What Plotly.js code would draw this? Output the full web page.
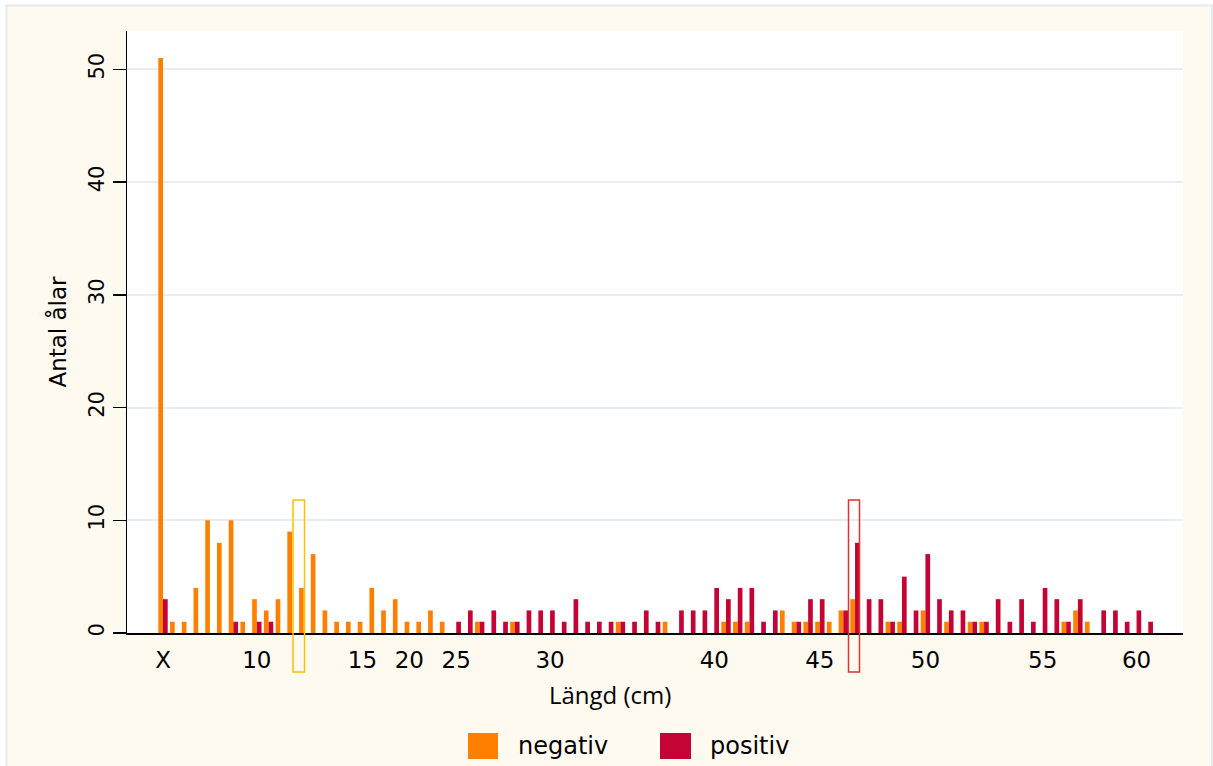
<!DOCTYPE html>
<html>
<head>
<meta charset="utf-8">
<script src="https://cdn.plot.ly/plotly-3.0.1.min.js"></script>
<style>
  html, body { margin: 0; padding: 0; background: #ffffff; }
  #chart { width: 1213px; height: 766px; }
</style>
</head>
<body>
<div id="chart"></div>
<script>
// ---- Data ----
// One entry per length category, left to right (85 categories).
const categoryIndex = Array.from({length: 85}, (_, i) => i);

const negativ = [
  51, 1, 1, 4, 10, 8, 10, 1, 3, 2,
  3, 9, 4, 7, 2, 1, 1, 1, 4, 2,
  3, 1, 1, 2, 1, 0, 0, 1, 0, 0,
  1, 0, 0, 0, 0, 0, 0, 0, 0, 1,
  0, 0, 0, 1, 0, 0, 0, 0, 1, 1,
  1, 0, 0, 2, 1, 1, 1, 1, 2, 3,
  0, 0, 1, 1, 0, 2, 0, 1, 0, 1,
  1, 0, 0, 0, 0, 0, 0, 1, 2, 1,
  0, 0, 0, 0, 0
];

const positiv = [
  3, 0, 0, 0, 0, 0, 1, 0, 1, 1,
  0, 0, 0, 0, 0, 0, 0, 0, 0, 0,
  0, 0, 0, 0, 0, 1, 2, 1, 2, 1,
  1, 2, 2, 2, 1, 3, 1, 1, 1, 1,
  1, 2, 1, 0, 2, 2, 2, 4, 3, 4,
  4, 1, 2, 0, 1, 3, 3, 0, 2, 8,
  3, 3, 1, 5, 2, 7, 3, 2, 2, 1,
  1, 3, 1, 3, 1, 4, 3, 1, 3, 0,
  2, 2, 1, 2, 1
];

// Tick labels and the category they sit under
const tickLabels = ['X', '10', '15', '20', '25', '30', '40', '45', '50', '55', '60'];
const tickCategories = [0, 8, 17, 21, 25, 33, 47, 56, 65, 75, 83];

const seriesNames = ['negativ', 'positiv'];
const seriesColors = ['#ff8000', '#c40434'];
const xTitle = 'Längd (cm)';
const yTitle = 'Antal ålar';

// ---- Layout helpers (pixel -> paper) ----
const M = {l: 127, r: 30, t: 31, b: 133};
const W = 1213, H = 766;
const PW = W - M.l - M.r, PH = H - M.t - M.b;
const px = x => (x - M.l) / PW;
const py = y => (H - M.b - y) / PH;

const traces = [
  {type: 'bar', name: seriesNames[0], x: categoryIndex, y: negativ,
   marker: {color: seriesColors[0], line: {width: 0}}},
  {type: 'bar', name: seriesNames[1], x: categoryIndex, y: positiv,
   marker: {color: seriesColors[1], line: {width: 0}}}
];

const shapes = [
  // white outer strips + figure frame
  {type: 'rect', xref: 'paper', yref: 'paper', layer: 'below',
   x0: px(-5), x1: px(6), y0: py(780), y1: py(-5),
   fillcolor: '#ffffff', line: {width: 0}},
  {type: 'rect', xref: 'paper', yref: 'paper', layer: 'below',
   x0: px(-5), x1: px(1220), y0: py(5), y1: py(-5),
   fillcolor: '#ffffff', line: {width: 0}},
  {type: 'rect', xref: 'paper', yref: 'paper', layer: 'below',
   x0: px(6.5), x1: px(1212), y0: py(780), y1: py(5.5),
   line: {color: '#e3e9ec', width: 2}},
  // highlight boxes
  {type: 'rect', xref: 'paper', yref: 'paper', layer: 'above',
   x0: px(293), x1: px(304.5), y0: py(672), y1: py(500),
   line: {color: '#ffc000', width: 1.5}},
  {type: 'rect', xref: 'paper', yref: 'paper', layer: 'above',
   x0: px(848.5), x1: px(859.5), y0: py(672), y1: py(500),
   line: {color: '#dd3333', width: 1.5}},
  // legend keys
  {type: 'rect', xref: 'paper', yref: 'paper',
   x0: px(468), x1: px(498), y0: py(759), y1: py(733),
   fillcolor: seriesColors[0], line: {width: 0}},
  {type: 'rect', xref: 'paper', yref: 'paper',
   x0: px(660), x1: px(691), y0: py(759), y1: py(733),
   fillcolor: seriesColors[1], line: {width: 0}}
];

const annotations = [
  {xref: 'paper', yref: 'paper', x: px(610), y: py(694), xanchor: 'center', yanchor: 'middle',
   text: xTitle, showarrow: false,
   font: {family: 'Open Sans', size: 24, color: '#000000'}},
  {xref: 'paper', yref: 'paper', x: px(516), y: py(746), xanchor: 'left', yanchor: 'middle',
   text: seriesNames[0], showarrow: false,
   font: {family: 'DejaVu Sans', size: 24, color: '#000000'}},
  {xref: 'paper', yref: 'paper', x: px(708), y: py(746), xanchor: 'left', yanchor: 'middle',
   text: seriesNames[1], showarrow: false,
   font: {family: 'DejaVu Sans', size: 24, color: '#000000'}}
];

const layout = {
  width: W, height: H,
  margin: M,
  paper_bgcolor: '#fffaf0',
  plot_bgcolor: '#ffffff',
  showlegend: false,
  barmode: 'group',
  bargap: 0.2,
  bargroupgap: 0,
  font: {family: 'DejaVu Sans', color: '#000000'},
  xaxis: {
    type: 'linear',
    range: [-3.07, 86.96],
    tickmode: 'array',
    tickvals: tickCategories,
    ticktext: tickLabels,
    ticks: '',
    ticklabelstandoff: 6,
    tickfont: {family: 'DejaVu Sans', size: 23, color: '#000000'},
    showgrid: false,
    zeroline: false,
    showline: true,
    linecolor: '#000000',
    linewidth: 1.5
  },
  yaxis: {
    range: [0, 53.4],
    tickmode: 'array',
    tickvals: [0, 10, 20, 30, 40, 50],
    ticks: 'outside',
    ticklen: 13,
    tickwidth: 1.5,
    tickcolor: '#000000',
    tickangle: -90,
    tickfont: {family: 'DejaVu Sans', size: 21, color: '#000000'},
    showgrid: true,
    gridcolor: '#e6eef1',
    gridwidth: 2,
    zeroline: false,
    showline: true,
    linecolor: '#000000',
    linewidth: 1.5,
    title: {text: yTitle, font: {family: 'DejaVu Sans', size: 23, color: '#000000'}, standoff: 12}
  },
  shapes: shapes,
  annotations: annotations
};

Plotly.newPlot('chart', traces, layout, {displayModeBar: false, staticPlot: true});
</script>
</body>
</html>
